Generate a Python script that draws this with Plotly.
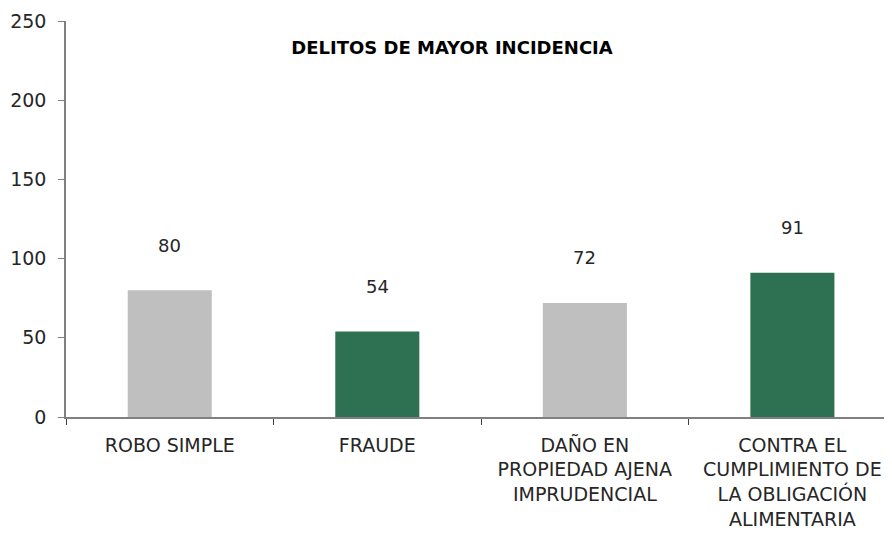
import plotly.graph_objects as go

categories = ["ROBO SIMPLE", "FRAUDE", "DAÑO EN<br>PROPIEDAD AJENA<br>IMPRUDENCIAL",
              "CONTRA EL<br>CUMPLIMIENTO DE<br>LA OBLIGACIÓN<br>ALIMENTARIA"]
values = [80, 54, 72, 91]
colors = ["#BFBFBF", "#2E7152", "#BFBFBF", "#2E7152"]
y_ticks = [0, 50, 100, 150, 200, 250]
title_text = "DELITOS DE MAYOR INCIDENCIA"

FONT = "DejaVu Sans"
W, H = 884, 525  # page body has an 8px margin

fig = go.Figure()
fig.add_trace(go.Bar(x=categories, y=values, marker=dict(color=colors, line=dict(width=0)),
                     width=0.405, hoverinfo="x+y"))

for c, v in zip(categories, values):
    fig.add_annotation(x=c, y=v, text=str(v), showarrow=False, yanchor="middle",
                       yshift=45, font=dict(family=FONT, size=18, color="#262626"))

fig.update_layout(
    width=W, height=H,
    margin=dict(l=58, r=0, t=13, b=116, autoexpand=False),
    paper_bgcolor="white", plot_bgcolor="white",
    showlegend=False,
    title=dict(text="<b>" + title_text + "</b>", xref="container", x=444/W, y=1 - 40/H,
               xanchor="center", yanchor="middle",
               font=dict(family=FONT, size=18, color="black")),
    font=dict(family=FONT, size=19, color="#262626"),
)
fig.update_xaxes(type="category", range=[-0.5, 3.48], showline=True, linecolor="#808080",
                 linewidth=1.5, ticks="outside", tickson="boundaries", ticklen=6,
                 tickcolor="#404040", showgrid=False, zeroline=False, automargin=False,
                 ticklabelstandoff=10,
                 tickfont=dict(family=FONT, size=19, color="#262626"))
fig.update_yaxes(range=[0, 250], tickvals=y_ticks, showline=True, linecolor="#808080",
                 linewidth=1.5, ticks="outside", ticklen=6, tickcolor="#808080",
                 showgrid=False, zeroline=False, ticklabelstandoff=8, automargin=False,
                 tickfont=dict(family=FONT, size=19, color="#262626"))

fig.write_html("out.html")
